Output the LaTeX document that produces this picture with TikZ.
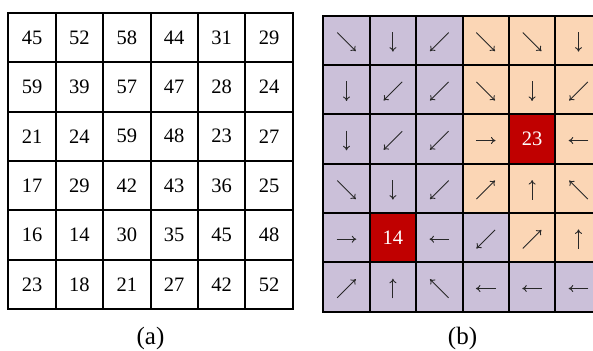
\documentclass[tikz,border=0pt]{standalone}
\usepackage{fontspec}
\setmainfont{Liberation Serif}
\usetikzlibrary{arrows.meta}
\definecolor{lav}{RGB}{203,192,217}
\definecolor{peach}{RGB}{251,214,181}
\definecolor{hot}{RGB}{192,0,0}
\definecolor{arrowgray}{RGB}{40,40,40}
\tikzset{
  numcell/.style={draw=black, line width=2pt, minimum width=47.4pt, minimum height=49.43pt,
    inner sep=0pt, outer sep=0pt, font=\fontsize{20.5}{20.5}\selectfont},
  dircell/.style={draw=black, line width=2pt, minimum width=46.4pt, minimum height=49.33pt,
    inner sep=0pt, outer sep=0pt, font=\fontsize{20.5}{20.5}\selectfont},
  arr/.style={draw=arrowgray, line width=0.9pt, -{To[length=4.5pt,width=7pt]}},
  caption/.style={font=\fontsize{25}{25}\selectfont, inner sep=0pt}
}
\begin{document}
\begin{tikzpicture}[x=1pt,y=-1pt]
\useasboundingbox (0,0) rectangle (593,350);
% ---------- (a) grid of numbers
\foreach \row [count=\r] in {
  {45,52,58,44,31,29},
  {59,39,57,47,28,24},
  {21,24,59,48,23,27},
  {17,29,42,43,36,25},
  {16,14,30,35,45,48},
  {23,18,21,27,42,52}}{
  \foreach \v [count=\c] in \row {
    \node[numcell] (a-\r-\c) at ({8.3+47.4*(\c-0.5)},{12.7+49.43*(\r-0.5)}) {\v};
  }
}
% ---------- (b) grid of directions
\foreach \r/\c/\fc/\ux/\uy in {
  1/1/lav/1/1, 1/2/lav/0/1, 1/3/lav/-1/1, 1/4/peach/1/1, 1/5/peach/1/1, 1/6/peach/0/1,
  2/1/lav/0/1, 2/2/lav/-1/1, 2/3/lav/-1/1, 2/4/peach/1/1, 2/5/peach/0/1, 2/6/peach/-1/1,
  3/1/lav/0/1, 3/2/lav/-1/1, 3/3/lav/-1/1, 3/4/peach/1/0, 3/6/peach/-1/0,
  4/1/lav/1/1, 4/2/lav/0/1, 4/3/lav/-1/1, 4/4/peach/1/-1, 4/5/peach/0/-1, 4/6/peach/-1/-1,
  5/1/lav/1/0, 5/3/lav/-1/0, 5/4/lav/-1/1, 5/5/peach/1/-1, 5/6/peach/0/-1,
  6/1/lav/1/-1, 6/2/lav/0/-1, 6/3/lav/-1/-1, 6/4/lav/-1/0, 6/5/lav/-1/0, 6/6/lav/-1/0}{
  \node[dircell, fill=\fc] (b-\r-\c) at ({323.3+46.4*(\c-0.5)},{15.7+49.33*(\r-0.5)}) {};
  \pgfmathsetmacro{\h}{(abs(\ux)+abs(\uy)>1) ? 9.3 : 9.8}
  \draw[arr] ([shift={({-\ux*\h},{-\uy*\h+1.5})}]b-\r-\c.center)
          -- ([shift={({\ux*\h},{\uy*\h+1.5})}]b-\r-\c.center);
}
\node[dircell, fill=hot, text=white] (b-3-5) at ({323.3+46.4*4.5},{15.7+49.33*2.5}) {23};
\node[dircell, fill=hot, text=white] (b-5-2) at ({323.3+46.4*1.5},{15.7+49.33*4.5}) {14};
% ---------- captions
\node[caption] (capa) at (150.5,338) {(a)};
\node[caption] (capb) at (462.5,338) {(b)};
\end{tikzpicture}
\end{document}
